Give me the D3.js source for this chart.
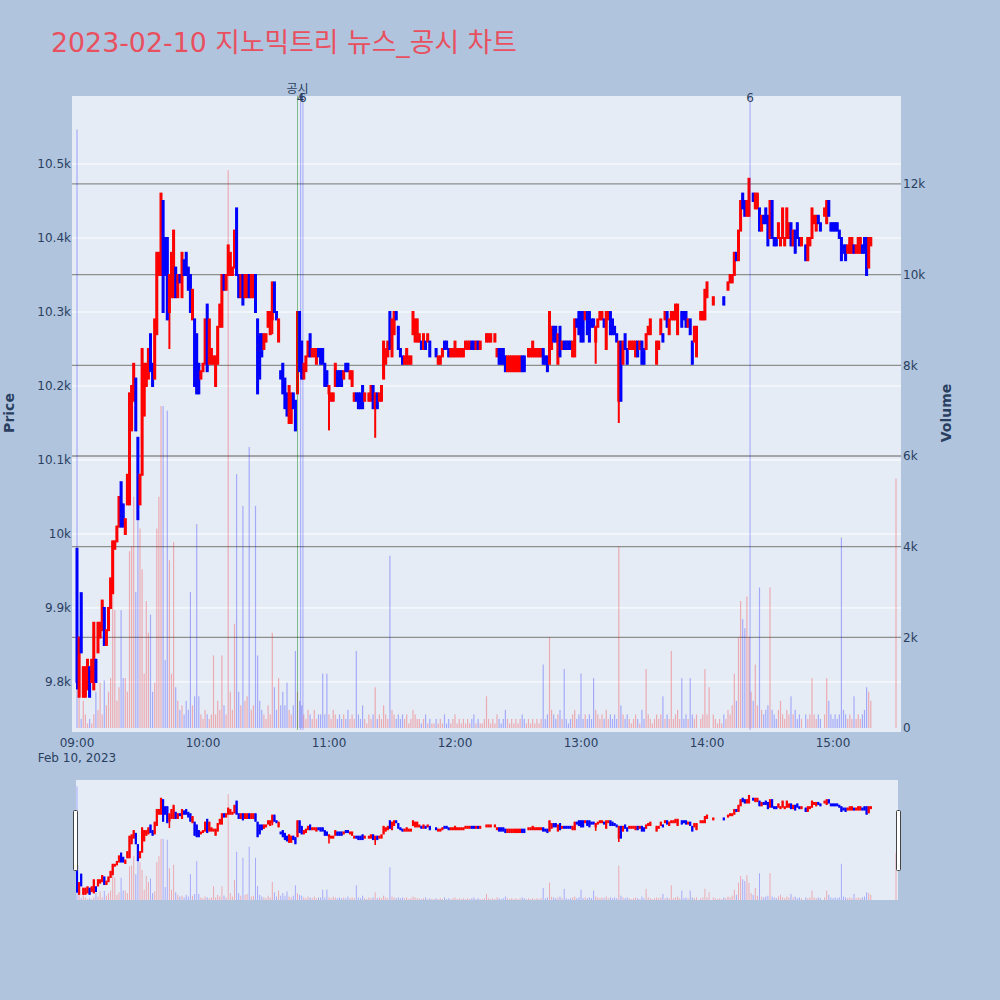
<!DOCTYPE html>
<html><head><meta charset="utf-8">
<script src="https://cdn.jsdelivr.net/npm/d3@7"></script>
<style>body{margin:0;background:#b0c4de}svg{display:block}</style>
</head><body><svg id="c" width="1000" height="1000"></svg>
<script>
// ---- DATA (minute bars, 2023-02-10) ----
// trading-minute segments (minutes after 09:00) that have a bar
const sessionSegments = [[0,295],[297,301],[303,345],[347,354],[356,378],[390,390]];
const open = [
9980,9780,9920,9780,9780,9790,9820,9800,9790,9830,
9840,9860,9870,9900,9850,9870,9900,9920,9980,9990,
10010,10070,10040,10000,10040,10040,10140,10180,10210,10130,
10040,10080,10160,10200,10210,10270,10230,10210,10270,10350,
10350,10450,10400,10400,10300,10320,10320,10360,10320,10350,
10320,10370,10380,10360,10350,10290,10290,10270,10230,10210,
10220,10230,10310,10230,10230,10230,10200,10230,10280,10280,
10350,10330,10350,10350,10350,10360,10440,10350,10320,10350,
10320,10320,10350,10320,10320,10350,10290,10270,10270,10250,
10260,10280,10270,10290,10340,10300,10260,10220,10230,10210,
10190,10150,10150,10190,10180,10190,10300,10260,10210,10220,
10240,10270,10240,10240,10230,10250,10250,10250,10230,10220,
10190,10180,10180,10200,10220,10220,10220,10210,10230,10230,
10210,10200,10180,10190,10190,10190,10200,10180,10190,10180,
10180,10200,10170,10190,10180,10180,10210,10230,10240,10300,
10240,10270,10300,10280,10250,10240,10230,10230,10230,10230,
10270,10260,10260,10260,10260,10250,10260,10260,10260,10250,
10250,10250,10230,10230,10240,10260,10260,10250,10240,10240,
10240,10240,10240,10240,10240,10250,10250,10250,10260,10260,
10250,10260,10250,10260,10260,10260,10260,10260,10260,10260,
10240,10250,10250,10250,10240,10220,10220,10220,10220,10220,
10220,10220,10240,10240,10250,10240,10240,10240,10240,10240,
10240,10240,10250,10240,10240,10230,10250,10280,10280,10230,
10280,10250,10260,10260,10260,10260,10240,10240,10290,10300,
10300,10300,10290,10300,10300,10290,10290,10260,10280,10290,
10290,10290,10250,10290,10300,10290,10280,10270,10180,10260,
10230,10270,10250,10250,10250,10250,10240,10260,10250,10260,
10250,10250,10270,10270,10280,10280,10230,10250,10270,10270,
10290,10300,10270,10290,10290,10290,10270,10300,10300,10300,
10300,10280,10290,10260,10260,10240,
10290,10290,10290,10320,10340,
10310,10320,10320,10320,10320,10320,10320,
10330,10340,10340,10350,10380,10370,10410,10460,10450,10430,
10430,10450,10460,10440,10440,10440,10410,10430,10440,10430,
10400,10450,10400,10400,10400,10390,10400,10390,10400,10400,
10420,10390,10410,10420,10400,10390,
10390,10370,10390,10400,10420,10410,10430,10420,
10430,10420,10450,10420,10420,10420,10420,10410,10400,10390,10390,10380,10380,10380,
10390,10380,10380,10380,10390,10400,10400,10360,10390,
10440];
const close = [
9800,9860,9840,9820,9820,9830,9780,9830,9880,9800,
9880,9880,9910,9850,9870,9900,9940,9990,9990,10010,
10050,10010,10010,10020,10080,10190,10200,10230,10140,10020,
10080,10250,10230,10230,10250,10220,10200,10290,10380,10380,
10460,10300,10350,10290,10350,10380,10410,10320,10350,10340,
10380,10350,10350,10330,10300,10330,10200,10190,10190,10220,
10230,10290,10220,10290,10250,10240,10240,10280,10310,10350,
10330,10350,10390,10380,10360,10410,10350,10320,10350,10310,
10350,10350,10320,10350,10350,10300,10190,10210,10240,10270,
10270,10300,10300,10340,10300,10290,10290,10210,10190,10170,
10160,10200,10190,10170,10140,10300,10220,10210,10230,10240,
10260,10240,10250,10250,10250,10240,10230,10230,10200,10200,
10200,10190,10190,10230,10200,10200,10200,10220,10220,10220,
10220,10220,10190,10180,10170,10170,10170,10190,10190,10190,
10200,10170,10190,10170,10190,10200,10260,10250,10260,10250,
10290,10300,10290,10250,10240,10230,10240,10250,10240,10240,
10300,10290,10290,10270,10250,10270,10250,10270,10240,10250,
10250,10240,10240,10240,10250,10250,10250,10240,10250,10250,
10260,10250,10250,10250,10250,10260,10260,10260,10250,10250,
10260,10250,10260,10260,10260,10270,10270,10270,10260,10270,
10250,10230,10230,10230,10220,10240,10240,10240,10240,10240,
10240,10240,10220,10220,10250,10250,10250,10260,10250,10250,
10250,10250,10230,10230,10220,10300,10280,10260,10260,10270,
10240,10260,10250,10250,10250,10250,10260,10290,10280,10270,
10260,10260,10300,10270,10260,10280,10280,10280,10290,10300,
10300,10280,10300,10300,10270,10270,10270,10260,10260,10180,
10260,10250,10230,10260,10260,10260,10260,10240,10260,10230,
10230,10270,10280,10290,10280,10280,10260,10260,10290,10260,
10300,10280,10290,10300,10300,10310,10310,10300,10280,10290,
10280,10290,10270,10230,10280,10280,
10300,10300,10330,10340,10340,
10320,10320,10320,10320,10320,10310,10320,
10340,10350,10350,10380,10370,10410,10450,10440,10430,10450,
10480,10450,10450,10460,10460,10410,10430,10420,10420,10390,
10450,10400,10390,10390,10420,10400,10440,10400,10440,10420,
10390,10410,10380,10400,10390,10400,
10370,10400,10400,10440,10430,10430,10420,10410,
10440,10450,10430,10410,10410,10410,10410,10400,10370,10380,10370,10390,10400,10400,
10380,10390,10400,10400,10380,10380,10350,10400,10400,
10440];
// wicks that reach beyond the candle body: [minute, high, low]
const wickMinutes = [0, 44, 93, 120, 142, 247, 258];
const wickHighs   = [9980, 10350, 10340, 10200, 10190, 10280, 10260];
const wickLows    = [9790, 10250, 10270, 10140, 10130, 10230, 10150];
const volume = [
13200,700,200,600,300,100,200,100,300,800,
400,1000,300,1050,500,800,1100,3000,2600,600,
900,2600,1100,1100,800,3900,4000,5100,3000,4800,
4400,3500,1200,2800,2100,2500,800,1000,4400,5100,
7100,7100,1500,7000,3700,1200,4100,900,600,400,
500,300,600,400,3000,500,700,4500,700,300,
200,400,300,200,300,1600,300,600,400,1600,
500,300,12300,800,400,2300,5600,800,500,4900,
600,700,6200,400,500,4900,1600,600,400,300,
200,500,300,2100,900,400,1100,500,800,500,
1000,400,300,500,1700,800,600,500,300,200,
400,300,200,400,200,300,300,1200,300,1200,
300,200,400,300,200,300,200,300,200,400,
200,300,200,1700,300,200,500,200,100,300,
200,300,900,200,300,200,500,300,200,3800,
400,300,200,300,200,300,200,300,100,200,
400,300,200,200,100,200,300,100,200,100,
100,200,100,200,100,300,100,200,100,200,
300,100,200,100,200,100,200,100,200,300,
100,200,100,100,200,700,200,100,200,100,
300,200,100,200,400,200,100,200,100,200,
100,200,300,200,100,200,100,200,100,200,
100,200,1400,200,300,2000,400,300,200,300,
400,200,1300,200,100,200,300,400,200,300,
1200,200,300,200,300,200,1100,400,300,200,
300,200,400,200,300,200,300,200,4000,500,
300,200,300,200,100,200,300,200,100,400,
200,1300,300,200,100,200,300,200,300,700,
200,300,200,1700,200,300,400,200,1100,200,
300,200,1100,300,200,300,
200,300,1300,300,900,
300,200,100,200,100,300,200,
400,300,500,1200,600,2000,2800,2400,2200,2900,
2000,800,600,1400,500,3100,400,300,400,500,
3100,400,300,200,400,600,300,200,400,300,
700,300,400,200,300,200,
300,200,300,1100,300,200,300,200,
300,1100,600,300,200,300,200,300,4200,400,300,200,300,200,
700,200,300,200,300,400,900,800,600,
5500];
const priceTicks = [9800,9900,10000,10100,10200,10300,10400,10500];
const priceTickLabels = ["9.8k","9.9k","10k","10.1k","10.2k","10.3k","10.4k","10.5k"];
const volumeTicks = [0,2000,4000,6000,8000,10000,12000];
const volumeTickLabels = ["0","2k","4k","6k","8k","10k","12k"];
const timeTickLabels = ["09:00","10:00","11:00","12:00","13:00","14:00","15:00"];
const markTimes  = ["10:45:00","10:46:30","10:47:35","14:20:30"];
const markLabels = ["공시","4","6","6"];
const markKinds  = ["disclosure","news","news","news"];

// ---- CHART ----
const W = 1000, H = 1000;
const FONT = "'DejaVu Sans', Verdana, 'Noto Sans CJK KR', sans-serif";
const TXT = "#2a3f5f";
const svg = d3.select("#c");
svg.append("rect").attr("width", W).attr("height", H).attr("fill", "#b0c4de");

const P = {l: 72, r: 901, t: 96, b: 728};
const day = new Date(2023, 1, 10, 9, 0, 0);
const atMin = m => new Date(day.getTime() + m * 60000);
const parseT = s => { const [hh, mm, ss] = s.split(":").map(Number); return new Date(2023, 1, 10, hh, mm, ss || 0); };

const x = d3.scaleTime().domain([atMin(-2.38), atMin(392.38)]).range([P.l, P.r]);
const yP = d3.scaleLinear().domain([9737.8, 10591.9]).range([P.b, P.t]);
const yV = d3.scaleLinear().domain([0, 13940]).range([P.b, P.t]);

const minutes = [];
sessionSegments.forEach(([a, b]) => { for (let m = a; m <= b; m++) minutes.push(m); });
const bars = minutes.map((m, i) => {
  const w = wickMinutes.indexOf(m);
  const o = open[i], c = close[i];
  return {t: atMin(m), o, c,
    h: w >= 0 ? wickHighs[w] : Math.max(o, c),
    l: w >= 0 ? wickLows[w] : Math.min(o, c),
    v: volume[i]};
});
const UP = "#ff0000", DN = "#0000ff";
const col = d => d.c >= d.o ? UP : DN;

// plot background
svg.append("rect").attr("x", P.l).attr("y", P.t).attr("width", P.r - P.l).attr("height", P.b - P.t + 4).attr("fill", "#e5ecf6");

const defs = svg.append("defs");
defs.append("clipPath").attr("id", "clipMain").append("rect")
  .attr("x", P.l).attr("y", P.t).attr("width", P.r - P.l).attr("height", P.b - P.t + 4);

// price grid (white)
svg.append("g").selectAll("line").data(priceTicks).join("line")
  .attr("x1", P.l).attr("x2", P.r).attr("y1", d => yP(d)).attr("y2", d => yP(d))
  .attr("stroke", "#ffffff").attr("stroke-width", 1);
// volume grid (gray)
svg.append("g").selectAll("line").data(volumeTicks.filter(d => d > 0)).join("line")
  .attr("x1", P.l).attr("x2", P.r).attr("y1", d => yV(d)).attr("y2", d => yV(d))
  .attr("stroke", "#8e8e8e").attr("stroke-width", 1.3);

function drawCandles(g, xs, ys, lw, bw) {
  g.selectAll("line.w").data(bars).join("line").attr("class", "w")
    .attr("x1", d => xs(d.t)).attr("x2", d => xs(d.t))
    .attr("y1", d => ys(d.h)).attr("y2", d => ys(d.l))
    .attr("stroke", col).attr("stroke-width", lw);
  g.selectAll("rect.b").data(bars).join("rect").attr("class", "b")
    .attr("x", d => xs(d.t) - bw / 2).attr("width", bw)
    .attr("y", d => ys(Math.max(d.o, d.c)))
    .attr("height", d => Math.abs(ys(d.o) - ys(d.c)))
    .attr("fill", col).attr("stroke", col).attr("stroke-width", lw);
}
function drawVolume(g, xs, ys, base, bw) {
  g.selectAll("rect").data(bars).join("rect")
    .attr("x", d => xs(d.t) - bw / 2).attr("width", bw)
    .attr("y", d => ys(d.v)).attr("height", d => base - ys(d.v))
    .attr("fill", col).attr("fill-opacity", 0.28);
}

const gMain = svg.append("g").attr("clip-path", "url(#clipMain)");
drawCandles(gMain.append("g"), x, yP, 2, 1);
drawVolume(gMain.append("g"), x, yV, P.b, 1.2);

// news / disclosure lines
const marks = markTimes.map((t, i) => ({t: parseT(t), label: markLabels[i], kind: markKinds[i]}));
svg.append("g").selectAll("line").data(marks).join("line")
  .attr("x1", d => x(d.t)).attr("x2", d => x(d.t)).attr("y1", P.t).attr("y2", P.b + 2)
  .attr("stroke", d => d.kind === "disclosure" ? "rgba(0,128,0,0.45)" : "rgba(0,0,255,0.3)")
  .attr("stroke-width", 1);
svg.append("g").selectAll("text").data(marks).join("text")
  .attr("x", d => x(d.t)).attr("y", d => d.kind === "disclosure" ? 93 : 102)
  .attr("text-anchor", "middle").attr("font-family", FONT).attr("font-size", 12)
  .attr("fill", TXT).text(d => d.label);

// axes labels
svg.append("g").selectAll("text").data(priceTicks).join("text")
  .attr("x", 71).attr("y", d => yP(d)).attr("dy", "0.35em").attr("text-anchor", "end")
  .attr("font-family", FONT).attr("font-size", 12).attr("fill", TXT)
  .text((d, i) => priceTickLabels[i]);
svg.append("g").selectAll("text").data(volumeTicks).join("text")
  .attr("x", 903).attr("y", d => yV(d)).attr("dy", "0.35em").attr("text-anchor", "start")
  .attr("font-family", FONT).attr("font-size", 12).attr("fill", TXT)
  .text((d, i) => volumeTickLabels[i]);
svg.append("g").selectAll("text").data(timeTickLabels).join("text")
  .attr("x", d => x(parseT(d))).attr("y", 747).attr("text-anchor", "middle")
  .attr("font-family", FONT).attr("font-size", 12).attr("fill", TXT).text(d => d);
svg.append("text").attr("x", x(parseT(timeTickLabels[0]))).attr("y", 762).attr("text-anchor", "middle")
  .attr("font-family", FONT).attr("font-size", 12).attr("fill", TXT).text("Feb 10, 2023");

svg.append("text").attr("transform", "translate(14,413) rotate(-90)").attr("text-anchor", "middle")
  .attr("font-family", FONT).attr("font-size", 14).attr("font-weight", "bold").attr("fill", TXT).text("Price");
svg.append("text").attr("transform", "translate(951,413) rotate(-90)").attr("text-anchor", "middle")
  .attr("font-family", FONT).attr("font-size", 14).attr("font-weight", "bold").attr("fill", TXT).text("Volume");

// title
svg.append("text").attr("x", 51).attr("y", 52).attr("font-family", FONT).attr("font-size", 26.8)
  .attr("fill", "#e8505f").text("2023-02-10 지노믹트리 뉴스_공시 차트");

// range slider
const S = {l: 76, r: 898, t: 780, b: 900};
svg.append("rect").attr("x", S.l).attr("y", S.t).attr("width", S.r - S.l).attr("height", S.b - S.t).attr("fill", "#e5ecf6");
defs.append("clipPath").attr("id", "clipS").append("rect")
  .attr("x", S.l).attr("y", S.t).attr("width", S.r - S.l).attr("height", S.b - S.t);
const ySP = d3.scaleLinear().domain(yP.domain()).range([S.b, S.t]);
const ySV = d3.scaleLinear().domain(yV.domain()).range([S.b, S.t]);
const gS = svg.append("g").attr("clip-path", "url(#clipS)");
drawVolume(gS.append("g"), x, ySV, S.b, 1);
drawCandles(gS.append("g"), x, ySP, 1.6, 0.6);
[S.l - 3, S.r - 2].forEach(hx => {
  svg.append("rect").attr("x", hx + 0.5).attr("y", 810.5).attr("width", 4).attr("height", 60)
    .attr("fill", "#fff").attr("stroke", "#444").attr("stroke-width", 1).attr("rx", 1);
});
</script></body></html>
